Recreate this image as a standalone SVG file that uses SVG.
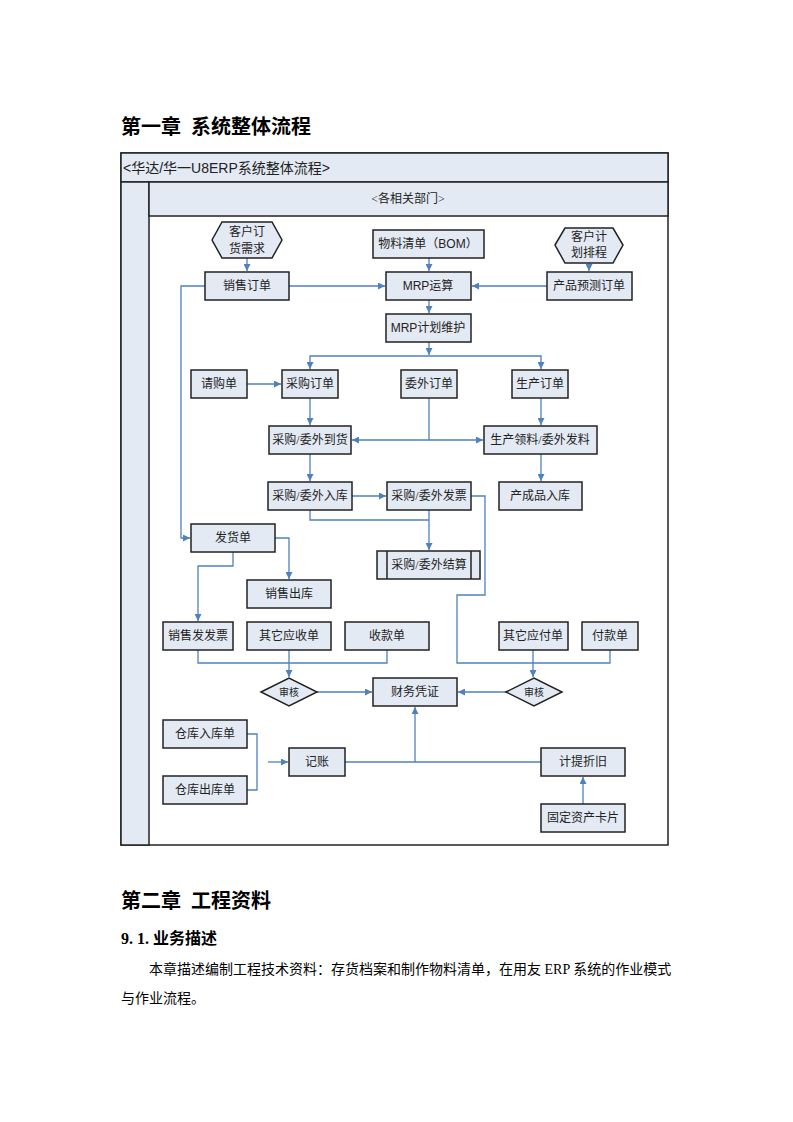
<svg xmlns="http://www.w3.org/2000/svg" width="793" height="1122" viewBox="0 0 793 1122">
<style>
.bg{fill:#ffffff}
.hdr{fill:#e4eaf4;stroke:#222;stroke-width:1.5}
.box{fill:#e4eaf4;stroke:#222;stroke-width:1.5}
.t{font-family:"Liberation Serif","Noto Sans CJK SC",serif;font-size:12px;fill:#222;text-anchor:middle}
.ts{font-family:"Liberation Sans","Noto Sans CJK SC",sans-serif;font-size:12px;fill:#222;text-anchor:middle}
.c{fill:none;stroke:#4f81bd;stroke-width:1.3}
.h1{font-family:"Liberation Serif","Noto Sans CJK SC",serif;font-size:20px;font-weight:bold;fill:#000}
.h2{font-family:"Liberation Serif","Noto Sans CJK SC",serif;font-size:16px;font-weight:bold;fill:#000}
.p{font-family:"Liberation Serif","Noto Sans CJK SC",serif;font-size:14px;fill:#000}
</style>
<defs>
<marker id="a" markerUnits="userSpaceOnUse" markerWidth="7" markerHeight="7" refX="7" refY="3.5" orient="auto">
<path d="M0,0 L7,3.5 L0,7 z" fill="#4f81bd"/>
</marker>
</defs>
<rect class="bg" x="0" y="0" width="793" height="1122"/>

<text class="h1" x="121" y="134">第一章<tspan dx="10">系统整体流程</tspan></text>

<g id="pool">
<rect x="121" y="153" width="547" height="692" fill="#fff" stroke="#222" stroke-width="1.5"/>
<rect class="hdr" x="121" y="153" width="547" height="29"/>
<text x="123" y="173" font-family="Liberation Sans,Noto Sans CJK SC,sans-serif" font-size="14" fill="#222">&lt;华达/华一U8ERP系统整体流程&gt;</text>
<rect class="hdr" x="121" y="182" width="28" height="663"/>
<rect class="hdr" x="149" y="182" width="519" height="34"/>
<text class="t" x="408" y="203" font-size="12">&lt;各相关部门&gt;</text>
</g>

<g id="connectors">
<path class="c" d="M247,258 V271" marker-end="url(#a)"/>
<path class="c" d="M289,286 H385" marker-end="url(#a)"/>
<path class="c" d="M429,258 V271" marker-end="url(#a)"/>
<path class="c" d="M547,286 H472" marker-end="url(#a)"/>
<path class="c" d="M589,263 V271" marker-end="url(#a)"/>
<path class="c" d="M429,300 V313" marker-end="url(#a)"/>
<path class="c" d="M429,342 V355" marker-end="url(#a)"/>
<path class="c" d="M429,356 H310 V369" marker-end="url(#a)"/>
<path class="c" d="M429,356 H541 V369" marker-end="url(#a)"/>
<path class="c" d="M247,384 H281" marker-end="url(#a)"/>
<path class="c" d="M310,398 V425" marker-end="url(#a)"/>
<path class="c" d="M541,398 V425" marker-end="url(#a)"/>
<path class="c" d="M429,398 V440 H352" marker-end="url(#a)"/>
<path class="c" d="M429,440 H483" marker-end="url(#a)"/>
<path class="c" d="M310,454 V481" marker-end="url(#a)"/>
<path class="c" d="M541,454 V481" marker-end="url(#a)"/>
<path class="c" d="M352,496 H386" marker-end="url(#a)"/>
<path class="c" d="M310,510 V520 H429"/>
<path class="c" d="M429,510 V550" marker-end="url(#a)"/>
<path class="c" d="M471,496 H485 V595 H457 V663 H610 V650"/>
<path class="c" d="M533,650 V677" marker-end="url(#a)"/>
<path class="c" d="M506,692 H458" marker-end="url(#a)"/>
<path class="c" d="M205,286 H181 V538 H190" marker-end="url(#a)"/>
<path class="c" d="M275,538 H289 V579" marker-end="url(#a)"/>
<path class="c" d="M233,552 V566 H198 V621" marker-end="url(#a)"/>
<path class="c" d="M198,650 V663 H387 V650"/>
<path class="c" d="M289,650 V677" marker-end="url(#a)"/>
<path class="c" d="M317,692 H372" marker-end="url(#a)"/>
<path class="c" d="M247,734 H257 V790 H247"/>
<path class="c" d="M268,762 H288" marker-end="url(#a)"/>
<path class="c" d="M345,762 H541"/>
<path class="c" d="M415,762 V707" marker-end="url(#a)"/>
<path class="c" d="M583,804 V777" marker-end="url(#a)"/>
</g>

<g id="n_khdh"><polygon class="box" points="212,240 222,222 272,222 282,240 272,258 222,258"/><text class="t" x="247" y="236">客户订</text><text class="t" x="247" y="253">货需求</text></g>
<g id="n_bom"><rect class="box" x="373" y="230" width="111" height="28"/><text class="t" x="428" y="248">物料清单（<tspan font-family="Liberation Sans,sans-serif">BOM</tspan>）</text></g>
<g id="n_khjh"><polygon class="box" points="555,245 565,228 613,228 623,245 613,263 565,263"/><text class="t" x="589" y="241">客户计</text><text class="t" x="589" y="257">划排程</text></g>
<g id="n_xsdd"><rect class="box" x="205" y="272" width="84" height="28"/><text class="t" x="247" y="290">销售订单</text></g>
<g id="n_mrp"><rect class="box" x="386" y="272" width="85" height="28"/><text class="ts" x="428" y="290">MRP运算</text></g>
<g id="n_cpyc"><rect class="box" x="547" y="272" width="85" height="28"/><text class="t" x="589" y="290">产品预测订单</text></g>
<g id="n_mrpwh"><rect class="box" x="386" y="314" width="85" height="28"/><text class="ts" x="428" y="332">MRP计划维护</text></g>
<g id="n_qgd"><rect class="box" x="191" y="370" width="56" height="28"/><text class="t" x="219" y="388">请购单</text></g>
<g id="n_cgdd"><rect class="box" x="282" y="370" width="56" height="28"/><text class="t" x="310" y="388">采购订单</text></g>
<g id="n_wwdd"><rect class="box" x="401" y="370" width="56" height="28"/><text class="t" x="429" y="388">委外订单</text></g>
<g id="n_scdd"><rect class="box" x="512" y="370" width="56" height="28"/><text class="t" x="540" y="388">生产订单</text></g>
<g id="n_dh"><rect class="box" x="269" y="426" width="82" height="28"/><text class="t" x="310" y="444">采购/委外到货</text></g>
<g id="n_ll"><rect class="box" x="484" y="426" width="113" height="28"/><text class="t" x="540" y="444">生产领料/委外发料</text></g>
<g id="n_rk"><rect class="box" x="268" y="482" width="84" height="28"/><text class="t" x="310" y="500">采购/委外入库</text></g>
<g id="n_fp"><rect class="box" x="387" y="482" width="84" height="28"/><text class="t" x="429" y="500">采购/委外发票</text></g>
<g id="n_ccp"><rect class="box" x="499" y="482" width="83" height="28"/><text class="t" x="540" y="500">产成品入库</text></g>
<g id="n_js"><rect class="box" x="377" y="551" width="103" height="28"/><line x1="387" y1="551" x2="387" y2="579" stroke="#222" stroke-width="1.5"/><line x1="471" y1="551" x2="471" y2="579" stroke="#222" stroke-width="1.5"/><text class="t" x="429" y="569">采购/委外结算</text></g>
<g id="n_fhd"><rect class="box" x="191" y="524" width="84" height="28"/><text class="t" x="233" y="542">发货单</text></g>
<g id="n_xsck"><rect class="box" x="247" y="580" width="84" height="28"/><text class="t" x="289" y="598">销售出库</text></g>
<g id="n_xsfp"><rect class="box" x="163" y="622" width="70" height="28"/><text class="t" x="198" y="640">销售发发票</text></g>
<g id="n_qtys"><rect class="box" x="247" y="622" width="84" height="28"/><text class="t" x="289" y="640">其它应收单</text></g>
<g id="n_skd"><rect class="box" x="345" y="622" width="84" height="28"/><text class="t" x="387" y="640">收款单</text></g>
<g id="n_qtyf"><rect class="box" x="499" y="622" width="69" height="28"/><text class="t" x="533" y="640">其它应付单</text></g>
<g id="n_fkd"><rect class="box" x="582" y="622" width="56" height="28"/><text class="t" x="610" y="640">付款单</text></g>
<g id="n_sh1"><polygon class="box" points="261,692 289,678 317,692 289,706"/><text class="t" x="289" y="696" style="font-size:10px">审核</text></g>
<g id="n_cwpz"><rect class="box" x="373" y="678" width="84" height="28"/><text class="t" x="415" y="696">财务凭证</text></g>
<g id="n_sh2"><polygon class="box" points="506,692 534,678 562,692 534,706"/><text class="t" x="534" y="696" style="font-size:10px">审核</text></g>
<g id="n_ckrk"><rect class="box" x="163" y="720" width="84" height="28"/><text class="t" x="205" y="738">仓库入库单</text></g>
<g id="n_jz"><rect class="box" x="289" y="748" width="56" height="28"/><text class="t" x="317" y="766">记账</text></g>
<g id="n_jtzj"><rect class="box" x="541" y="748" width="84" height="28"/><text class="t" x="583" y="766">计提折旧</text></g>
<g id="n_ckck"><rect class="box" x="163" y="776" width="84" height="28"/><text class="t" x="205" y="794">仓库出库单</text></g>
<g id="n_gdzc"><rect class="box" x="541" y="804" width="84" height="28"/><text class="t" x="583" y="822">固定资产卡片</text></g>

<text class="h1" x="121" y="908">第二章<tspan dx="10">工程资料</tspan></text>
<text class="h2" x="121" y="944">9. 1. 业务描述</text>
<text class="p" x="149" y="974">本章描述编制工程技术资料：存货档案和制作物料清单，在用友 ERP 系统的作业模式</text>
<text class="p" x="121" y="1003">与作业流程。</text>
</svg>
